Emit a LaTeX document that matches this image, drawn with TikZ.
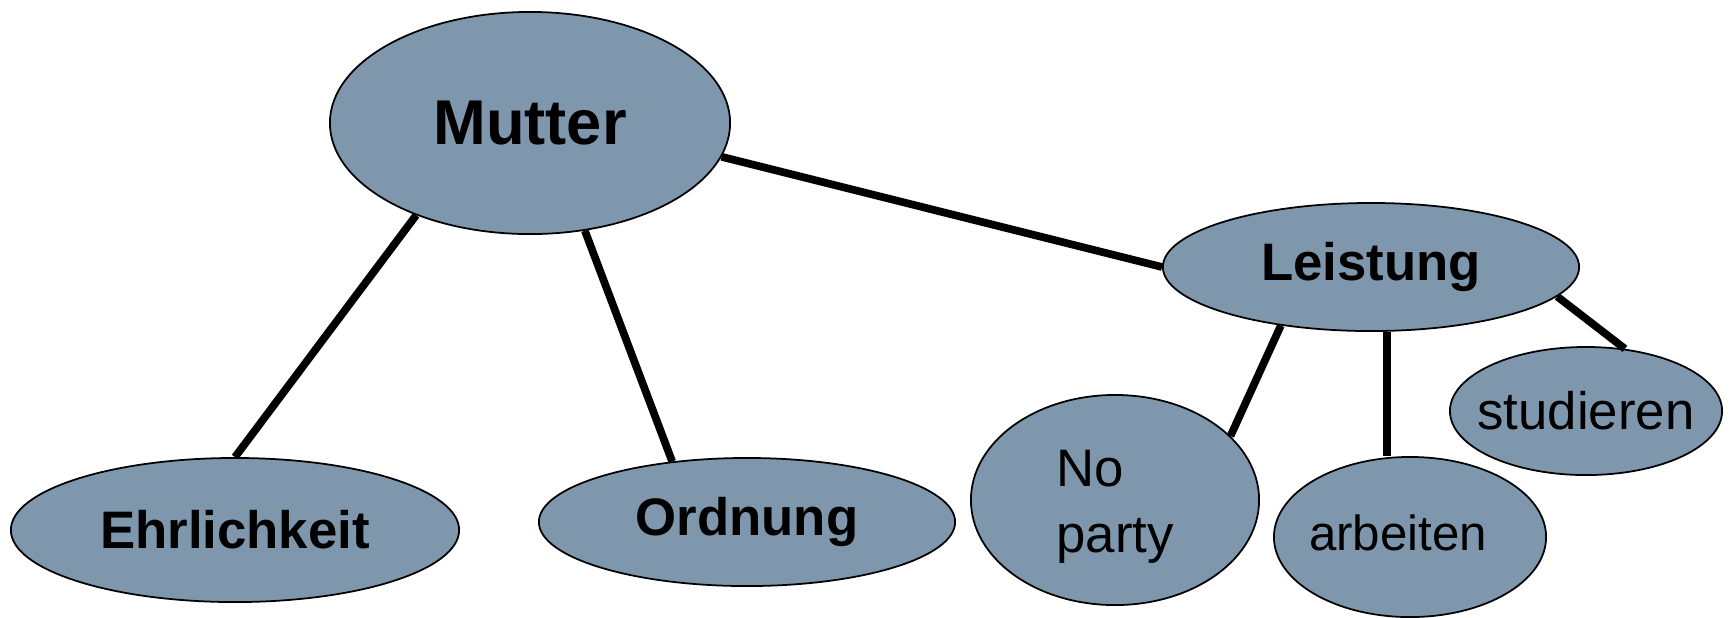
\documentclass[tikz,border=0pt]{standalone}
\usepackage{fontspec}
\setmainfont{Liberation Sans}
\usepackage{tikz}
\usetikzlibrary{shapes.geometric,calc}

\definecolor{bubble}{RGB}{127,151,173}

\begin{document}
\begin{tikzpicture}[%
    x=0.01cm,
    y=-0.01cm,
    blob/.style={ellipse, draw=black, line width=0.5pt, fill=bubble,
      inner sep=0pt, font=\fontsize{15}{18}\selectfont},
    link/.style={line width=2.2pt}
  ]
  \useasboundingbox (0,0) rectangle (1731,617);

  \node[blob, minimum width=4cm, minimum height=2.22cm,
    font=\fontsize{18}{21}\selectfont\bfseries] (mutter) at (530,123) {Mutter};
  \node[blob, minimum width=4.16cm, minimum height=1.28cm,
    font=\fontsize{15}{18}\selectfont\bfseries] (leistung) at (1371,267) {Leistung};
  \node[blob, minimum width=4.48cm, minimum height=1.44cm,
    font=\fontsize{15}{18}\selectfont\bfseries] (ehrlich) at (235,530) {Ehrlichkeit};
  \node[blob, minimum width=4.16cm, minimum height=1.28cm,
    font=\fontsize{15}{18}\selectfont\bfseries] (ordnung) at (747,522) {Ordnung};
  \node[blob, minimum width=2.88cm, minimum height=2.1cm, align=left,
    font=\fontsize{15}{18.8}\selectfont] (party)
    at (1115,500) {\raisebox{-0.07cm}[\height][\depth]{No}\\\raisebox{-0.07cm}[\height][\depth]{party}};
  \node[blob, minimum width=2.72cm, minimum height=1.6cm, inner xsep=-0.1cm,
    font=\fontsize{14}{17}\selectfont] (arbeiten)
    at (1410,537) {\raisebox{0.04cm}[\height][\depth]{arbeiten}\kern0.24cm};
  \node[blob, minimum width=2.72cm, minimum height=1.28cm, inner xsep=-0.15cm] (studieren) at (1586,411) {studieren};

  \draw[link] (mutter.219) -- (ehrlich.north);
  \draw[link] (mutter.297) -- (ordnung.141);
  \draw[link] (mutter.350) -- (leistung.west);
  \draw[link] (leistung.213) -- (party.29);
  \draw[link] ([xshift=0.16cm]leistung.south) -- ([xshift=0.16cm]leistung.south |- arbeiten.north);
  \draw[link] (leistung.351) -- (studieren.58);

\end{tikzpicture}
\end{document}
